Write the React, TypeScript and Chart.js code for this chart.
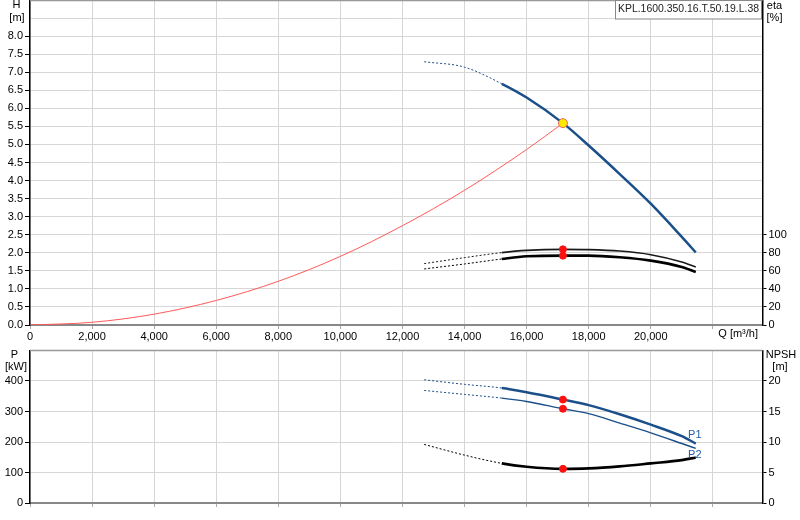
import { useEffect, useRef } from 'react';
import { Chart, registerables } from 'chart.js';
import type { ChartConfiguration, Plugin } from 'chart.js';

Chart.register(...registerables);

Chart.defaults.font.family = '"Liberation Sans", Arial, sans-serif';
Chart.defaults.font.size = 11;
Chart.defaults.color = '#000';

// flow axis ticks [m³/h]
const qTicks = [0, 2000, 4000, 6000, 8000, 10000, 12000, 14000, 16000, 18000, 20000, 22000];

// flow points shared by the pump curves [m³/h]
const qCurve = [12700, 14000, 15200, 16000, 17170, 18000, 19000, 20000, 21000, 21450];
// below this flow the curves are drawn dotted (outside the allowed range)
const qDashEnd = 15200;

const headPump = [7.29, 7.14, 6.68, 6.3, 5.59, 4.97, 4.18, 3.36, 2.44, 2.01];
const etaUpper = [68.0, 74.6, 80.2, 82.7, 83.8, 83.5, 81.9, 77.9, 69.8, 64.3];
const etaLower = [62.1, 67.6, 73.1, 76.1, 76.8, 76.8, 75.0, 71.3, 64.3, 58.8];
const powerP1 = [404, 389, 377, 363, 339, 321, 291, 257, 219, 195];
const powerP2 = [369, 356, 344, 333, 309, 293, 262, 230, 195, 179];
const npsh = [9.6, 7.85, 6.5, 5.94, 5.6, 5.67, 6.0, 6.5, 7.03, 7.47];

// system curve
const qSystem = [0, 2000, 4000, 6000, 8000, 10000, 12000, 14000, 16000, 17170];
const headSystem = [0, 0.075, 0.3, 0.68, 1.21, 1.9, 2.75, 3.73, 4.86, 5.59];

// duty point
const dutyQ = 17170;
const dutyH = 5.59;
const dutyEta = [83.8, 76.8];
const dutyP = [339, 309];
const dutyNpsh = 5.6;

const pumpName = 'KPL.1600.350.16.T.50.19.L.38';

const GRID = '#d6d6d6';
const BLUE = '#1b4f8a';
const FONT = '11px "Liberation Sans", Arial, sans-serif';

const pts = (xs: number[], ys: number[]) => xs.map((x, i) => ({ x, y: ys[i] }));

function curve(label: string, ys: number[], color: string, width: number, axis: string) {
  return {
    label,
    data: pts(qCurve, ys),
    yAxisID: axis,
    borderColor: color,
    borderWidth: width,
    pointRadius: 0,
    fill: false,
    cubicInterpolationMode: 'monotone' as const,
    segment: {
      borderDash: (c: any) => (c.p1.parsed.x <= qDashEnd ? [2, 2] : undefined),
      borderWidth: (c: any) => (c.p1.parsed.x <= qDashEnd ? 1 : undefined),
    },
  };
}

function dots(label: string, ys: number[], axis: string) {
  return {
    label,
    data: ys.map((y) => ({ x: dutyQ, y })),
    yAxisID: axis,
    showLine: false,
    pointRadius: 3.5,
    pointBackgroundColor: '#ff1010',
    pointBorderColor: '#ff1010',
  };
}

const noPad = (s: any) => {
  s.paddingTop = 0;
  s.paddingBottom = 0;
};

const xScale = (labels: boolean) => ({
  type: 'linear' as const,
  min: 0,
  max: 23600,
  afterBuildTicks: (s: any) => {
    s.ticks = qTicks.map((value) => ({ value }));
  },
  afterFit: (s: any) => {
    s.height = labels ? 20 : 17;
    s.paddingLeft = 0;
    s.paddingRight = 0;
  },
  border: { color: '#888', width: 2 },
  grid: { color: GRID, tickLength: 4, tickColor: '#aaa' },
  ticks: {
    display: labels,
    padding: 1,
    maxRotation: 0,
    autoSkip: false,
    callback: (v: any) => (v === 22000 ? '' : Number(v).toLocaleString('en-US')),
  },
});

const leftScale = (max: number, step: number, lastShown: number, digits: number) => ({
  type: 'linear' as const,
  position: 'left' as const,
  min: 0,
  max,
  afterFit: (s: any) => {
    s.width = 30;
    noPad(s);
  },
  border: { color: '#000', width: 1.5 },
  grid: {
    color: GRID,
    tickLength: 5,
    tickColor: (c: any) => (c.tick && c.tick.value <= lastShown + 1e-6 ? '#000' : 'rgba(0,0,0,0)'),
  },
  ticks: {
    stepSize: step,
    padding: 2,
    autoSkip: false,
    callback: (v: any) => (Number(v) <= lastShown + 1e-6 ? Number(v).toFixed(digits) : ''),
  },
});

const rightScale = (max: number, step: number, lastShown: number) => ({
  type: 'linear' as const,
  position: 'right' as const,
  min: 0,
  max,
  afterFit: (s: any) => {
    s.width = 37.5;
    noPad(s);
  },
  border: { color: '#000', width: 1.5 },
  grid: {
    drawOnChartArea: false,
    tickLength: 4,
    tickColor: (c: any) => (c.tick && c.tick.value <= lastShown ? '#000' : 'rgba(0,0,0,0)'),
  },
  ticks: {
    stepSize: step,
    padding: 2,
    autoSkip: false,
    callback: (v: any) => (Number(v) <= lastShown ? String(v) : ''),
  },
});

function text(ctx: CanvasRenderingContext2D, s: string, x: number, y: number, align: CanvasTextAlign, color = '#000', maxW?: number) {
  ctx.fillStyle = color;
  ctx.textAlign = align;
  ctx.textBaseline = 'middle';
  if (maxW) ctx.fillText(s, x, y, maxW);
  else ctx.fillText(s, x, y);
}

const topLabels: Plugin = {
  id: 'topLabels',
  afterDraw(chart) {
    const { ctx, chartArea } = chart;
    ctx.save();
    ctx.font = FONT;
    // frame top
    ctx.strokeStyle = '#999';
    ctx.lineWidth = 1.5;
    ctx.beginPath();
    ctx.moveTo(chartArea.left, chartArea.top + 0.5);
    ctx.lineTo(chartArea.right, chartArea.top + 0.5);
    ctx.stroke();
    text(ctx, 'H', 16.5, 5, 'center');
    text(ctx, '[m]', 17, 18, 'center');
    text(ctx, 'eta', 774.5, 6, 'center');
    text(ctx, '[%]', 774.5, 18, 'center');
    text(ctx, 'Q [m³/h]', 758, 334, 'right');
    // pump name box
    ctx.fillStyle = '#fff';
    ctx.fillRect(615, 0, 146.5, 19);
    ctx.strokeStyle = '#888';
    ctx.lineWidth = 1;
    ctx.strokeRect(615.5, 0.5, 146, 18.5);
    text(ctx, pumpName, 618, 9, 'left', '#222', 141);
    ctx.restore();
  },
};

const bottomLabels: Plugin = {
  id: 'bottomLabels',
  afterDraw(chart) {
    const { ctx, chartArea } = chart;
    ctx.save();
    ctx.font = FONT;
    ctx.strokeStyle = '#999';
    ctx.lineWidth = 1.5;
    ctx.beginPath();
    ctx.moveTo(chartArea.left, chartArea.top);
    ctx.lineTo(chartArea.right, chartArea.top);
    ctx.stroke();
    text(ctx, 'P', 14.5, 10, 'center');
    text(ctx, '[kW]', 16, 22, 'center');
    text(ctx, 'NPSH', 781, 10, 'center');
    text(ctx, '[m]', 780, 22, 'center');
    const xs = chart.scales.x;
    const ys = chart.scales.y;
    const n = qCurve.length - 1;
    const ex = xs.getPixelForValue(qCurve[n]);
    text(ctx, 'P1', ex - 1, ys.getPixelForValue(powerP1[n]) - 9, 'center', '#1f5fa8');
    text(ctx, 'P2', ex - 1, ys.getPixelForValue(powerP2[n]) + 7, 'center', '#1f5fa8');
    ctx.restore();
  },
};

function useChart(ref: React.RefObject<HTMLCanvasElement | null>, make: () => ChartConfiguration) {
  useEffect(() => {
    if (!ref.current) return;
    const chart = new Chart(ref.current, make());
    return () => chart.destroy();
  }, []);
}

export default function App() {
  const topRef = useRef<HTMLCanvasElement>(null);
  const bottomRef = useRef<HTMLCanvasElement>(null);

  useChart(topRef, () => ({
    type: 'line',
    data: {
      datasets: [
        dots('duty eta', dutyEta, 'y2'),
        {
          label: 'duty',
          data: [{ x: dutyQ, y: dutyH }],
          yAxisID: 'y',
          showLine: false,
          pointRadius: 4.5,
          pointBackgroundColor: '#ffe800',
          pointBorderColor: '#e86a5a',
          pointBorderWidth: 1,
        },
        curve('H', headPump, BLUE, 2.5, 'y'),
        {
          label: 'system',
          data: pts(qSystem, headSystem),
          yAxisID: 'y',
          borderColor: '#ff5a5a',
          borderWidth: 1,
          pointRadius: 0,
          fill: false,
          cubicInterpolationMode: 'monotone',
        },
        curve('eta', etaUpper, '#1a1a1a', 1.6, 'y2'),
        curve('eta2', etaLower, '#000', 2.6, 'y2'),
      ] as any,
    },
    options: {
      animation: false,
      responsive: false,
      layout: { padding: 0, autoPadding: false },
      plugins: { legend: { display: false }, tooltip: { enabled: false } },
      scales: {
        x: xScale(true),
        y: leftScale(9, 0.5, 8, 1),
        y2: rightScale(360, 20, 100),
      } as any,
    },
    plugins: [topLabels],
  }));

  useChart(bottomRef, () => ({
    type: 'line',
    data: {
      datasets: [
        dots('duty P', dutyP, 'y'),
        dots('duty NPSH', [dutyNpsh], 'y2'),
        curve('P1', powerP1, BLUE, 2.5, 'y'),
        curve('P2', powerP2, BLUE, 1.4, 'y'),
        curve('NPSH', npsh, '#000', 2.6, 'y2'),
      ] as any,
    },
    options: {
      animation: false,
      responsive: false,
      layout: { padding: { top: 5.5 }, autoPadding: false },
      plugins: { legend: { display: false }, tooltip: { enabled: false } },
      scales: {
        x: xScale(false),
        y: leftScale(500, 100, 400, 0),
        y2: rightScale(25, 5, 20),
      } as any,
    },
    plugins: [bottomLabels],
  }));

  return (
    <div style={{ position: 'absolute', left: 0, top: 0, width: 800, height: 520, background: '#fff' }}>
      <canvas ref={topRef} width={800} height={345} style={{ position: 'absolute', left: 0, top: 0 }} />
      <canvas ref={bottomRef} width={800} height={175} style={{ position: 'absolute', left: 0, top: 345 }} />
    </div>
  );
}
